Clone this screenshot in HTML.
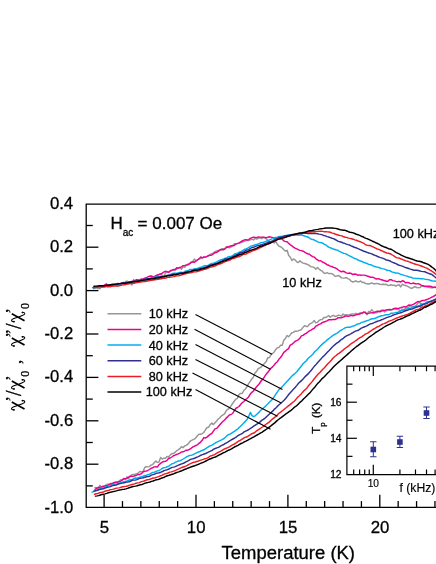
<!DOCTYPE html>
<html><head><meta charset="utf-8"><title>chart</title>
<style>html,body{margin:0;padding:0;background:#fff;}svg{display:block;will-change:transform;font-family:"Liberation Sans",sans-serif;}text{stroke:#000;stroke-width:0.3px;}</style>
</head><body>
<svg width="436" height="564" viewBox="0 0 436 564">
<rect width="436" height="564" fill="#fff"/>
<g fill="none" stroke-width="1.45" stroke-linejoin="round" stroke-linecap="round">
<polyline stroke="#969696" points="93.5,288.5 95.1,288.2 96.7,287.9 98.3,288.6 99.9,288.7 101.5,286.7 103.1,286.6 104.7,286.5 106.3,283.6 107.9,286.0 109.5,285.8 111.1,286.2 112.7,286.1 114.3,285.3 115.9,285.0 117.5,286.0 119.1,285.2 120.7,284.5 122.3,283.9 123.9,284.5 125.5,281.5 127.1,281.1 128.7,283.5 130.3,282.4 131.9,285.0 133.5,279.6 135.1,281.0 136.7,281.2 138.3,281.7 139.9,282.0 141.5,280.9 143.1,280.2 144.7,279.2 146.3,277.7 147.9,280.1 149.5,278.4 151.1,278.8 152.7,278.8 154.3,277.4 155.9,276.4 157.5,275.6 159.1,274.6 160.7,273.8 162.3,275.2 163.9,276.3 165.5,273.2 167.1,272.2 168.7,272.4 170.3,271.2 171.9,270.5 173.5,270.0 175.1,269.8 176.7,269.2 178.3,267.8 179.9,267.6 181.5,269.2 183.1,266.9 184.7,267.3 186.3,265.1 187.9,264.2 189.5,263.5 191.1,262.8 192.7,261.9 194.3,259.1 195.9,260.5 197.5,260.2 199.1,258.6 200.7,258.6 202.3,257.9 203.9,257.2 205.5,257.2 207.1,256.4 208.7,256.0 210.3,254.3 211.9,253.6 213.5,252.9 215.1,251.6 216.7,250.9 218.3,250.5 219.9,250.1 221.5,248.8 223.1,248.8 224.7,248.7 226.3,246.7 227.9,247.0 229.5,247.8 231.1,247.0 232.7,245.4 234.3,243.7 235.9,244.0 237.5,243.4 239.1,243.1 240.7,242.6 242.3,242.1 243.9,241.5 245.5,240.9 247.1,240.2 248.7,240.6 250.3,239.9 251.9,239.2 253.5,239.9 255.1,238.4 256.7,239.1 258.3,238.3 259.9,237.9 261.5,238.7 263.1,236.9 264.7,237.4 266.3,239.0 267.9,240.3 269.5,242.4 271.1,241.7 272.7,241.2 274.3,243.0 275.9,241.5 277.5,244.6 279.1,246.2 280.7,246.8 282.3,248.0 283.9,249.8 285.5,251.1 287.1,250.3 288.7,255.5 290.3,257.2 291.9,260.5 293.5,259.0 295.1,259.9 296.7,261.8 298.3,262.6 299.9,260.7 301.5,262.2 303.1,263.1 304.7,263.5 306.3,264.0 307.9,264.6 309.5,265.7 311.1,266.8 312.7,266.9 314.3,267.6 315.9,269.2 317.5,267.5 319.1,269.1 320.7,270.3 322.3,271.2 323.9,273.0 325.5,273.5 327.1,272.5 328.7,273.6 330.3,273.5 331.9,273.6 333.5,274.7 335.1,276.3 336.7,276.0 338.3,275.5 339.9,276.4 341.5,277.9 343.1,278.1 344.7,278.0 346.3,277.6 347.9,278.6 349.5,279.3 351.1,281.2 352.7,282.0 354.3,281.5 355.9,280.8 357.5,281.8 359.1,281.8 360.7,281.0 362.3,282.6 363.9,282.3 365.5,283.6 367.1,283.7 368.7,284.0 370.3,283.5 371.9,282.9 373.5,283.8 375.1,283.8 376.7,283.4 378.3,283.8 379.9,284.3 381.5,284.5 383.1,284.2 384.7,284.5 386.3,284.2 387.9,285.5 389.5,285.3 391.1,284.7 392.7,285.4 394.3,285.2 395.9,286.1 397.5,285.1 399.1,284.8 400.7,286.9 402.3,284.3 403.9,285.0 405.5,285.5 407.1,286.1 408.7,286.9 410.3,288.0 411.9,288.4 413.5,287.3 415.1,286.7 416.7,287.5 418.3,287.8 419.9,287.6 421.5,286.3 423.1,286.4 424.7,286.6 426.3,286.9 427.9,287.1 429.5,287.5 431.1,287.7 432.7,287.8 434.3,287.4 435.9,286.8 437.5,286.9 439.1,287.3"/>
<polyline stroke="#ec008c" points="93.5,287.5 95.1,287.1 96.7,286.5 98.3,286.6 99.9,286.1 101.5,285.9 103.1,285.9 104.7,285.0 106.3,284.3 107.9,286.9 109.5,285.0 111.1,284.6 112.7,284.8 114.3,284.5 115.9,284.1 117.5,283.4 119.1,283.6 120.7,283.7 122.3,282.6 123.9,282.5 125.5,284.5 127.1,283.0 128.7,282.1 130.3,282.6 131.9,282.1 133.5,280.7 135.1,280.4 136.7,279.6 138.3,280.0 139.9,279.9 141.5,278.9 143.1,279.1 144.7,278.1 146.3,277.8 147.9,276.9 149.5,276.3 151.1,276.0 152.7,276.4 154.3,276.7 155.9,275.6 157.5,275.0 159.1,274.4 160.7,274.0 162.3,273.2 163.9,272.0 165.5,271.3 167.1,271.6 168.7,272.3 170.3,270.8 171.9,270.2 173.5,269.5 175.1,269.8 176.7,267.7 178.3,268.2 179.9,267.5 181.5,266.8 183.1,265.7 184.7,265.5 186.3,265.1 187.9,264.8 189.5,263.9 191.1,262.2 192.7,261.8 194.3,262.3 195.9,261.2 197.5,259.8 199.1,258.9 200.7,256.9 202.3,257.8 203.9,257.0 205.5,257.1 207.1,256.4 208.7,255.4 210.3,255.3 211.9,255.0 213.5,253.7 215.1,252.8 216.7,252.3 218.3,251.4 219.9,249.9 221.5,249.8 223.1,249.8 224.7,249.0 226.3,247.7 227.9,247.0 229.5,246.4 231.1,245.8 232.7,245.8 234.3,245.6 235.9,243.9 237.5,243.6 239.1,242.9 240.7,241.9 242.3,241.0 243.9,240.1 245.5,239.6 247.1,240.0 248.7,239.6 250.3,238.3 251.9,237.6 253.5,237.2 255.1,237.4 256.7,237.6 258.3,236.9 259.9,237.1 261.5,237.1 263.1,237.5 264.7,237.5 266.3,237.7 267.9,237.3 269.5,236.8 271.1,237.1 272.7,237.6 274.3,237.9 275.9,237.4 277.5,237.9 279.1,238.6 280.7,238.8 282.3,239.2 283.9,240.9 285.5,241.6 287.1,241.8 288.7,243.4 290.3,244.8 291.9,245.9 293.5,247.1 295.1,248.1 296.7,248.8 298.3,249.7 299.9,250.4 301.5,250.6 303.1,251.2 304.7,252.1 306.3,253.2 307.9,253.8 309.5,254.2 311.1,255.7 312.7,256.7 314.3,257.1 315.9,258.8 317.5,259.8 319.1,260.9 320.7,260.7 322.3,262.0 323.9,262.6 325.5,263.6 327.1,264.7 328.7,265.3 330.3,266.1 331.9,266.5 333.5,267.4 335.1,267.8 336.7,268.6 338.3,270.0 339.9,271.0 341.5,271.8 343.1,271.3 344.7,271.8 346.3,272.9 347.9,273.4 349.5,273.0 351.1,273.4 352.7,274.6 354.3,274.0 355.9,274.2 357.5,275.2 359.1,274.9 360.7,275.2 362.3,275.1 363.9,275.1 365.5,275.4 367.1,276.0 368.7,276.5 370.3,277.2 371.9,277.2 373.5,277.4 375.1,278.5 376.7,279.0 378.3,278.6 379.9,279.2 381.5,279.7 383.1,280.2 384.7,280.7 386.3,281.3 387.9,281.3 389.5,279.8 391.1,279.6 392.7,280.6 394.3,280.9 395.9,281.4 397.5,281.7 399.1,281.4 400.7,282.0 402.3,280.7 403.9,281.3 405.5,282.7 407.1,282.5 408.7,282.6 410.3,283.6 411.9,283.6 413.5,283.0 415.1,283.8 416.7,283.9 418.3,283.6 419.9,284.4 421.5,285.4 423.1,285.8 424.7,286.2 426.3,286.2 427.9,286.2 429.5,286.2 431.1,286.5 432.7,287.2 434.3,287.3 435.9,287.6 437.5,287.4 439.1,287.1"/>
<polyline stroke="#00aeef" points="92.5,287.6 94.1,287.6 95.7,287.2 97.3,287.0 98.9,286.4 100.5,286.4 102.1,286.2 103.7,286.1 105.3,286.0 106.9,286.0 108.5,285.8 110.1,285.5 111.7,285.1 113.3,285.0 114.9,284.9 116.5,284.7 118.1,284.6 119.7,284.4 121.3,284.0 122.9,283.2 124.5,282.9 126.1,283.2 127.7,283.2 129.3,283.0 130.9,282.4 132.5,281.8 134.1,281.8 135.7,281.8 137.3,281.3 138.9,280.8 140.5,280.2 142.1,279.9 143.7,280.1 145.3,279.5 146.9,278.9 148.5,278.7 150.1,278.4 151.7,277.7 153.3,277.5 154.9,277.3 156.5,277.1 158.1,276.8 159.7,276.5 161.3,276.1 162.9,276.2 164.5,275.8 166.1,275.6 167.7,275.6 169.3,275.0 170.9,274.2 172.5,273.5 174.1,273.1 175.7,273.2 177.3,273.1 178.9,272.6 180.5,272.2 182.1,272.5 183.7,272.1 185.3,271.1 186.9,270.8 188.5,270.4 190.1,269.5 191.7,269.4 193.3,269.2 194.9,268.8 196.5,268.8 198.1,268.3 199.7,267.4 201.3,267.3 202.9,266.4 204.5,265.6 206.1,265.8 207.7,265.6 209.3,264.7 210.9,263.8 212.5,263.4 214.1,263.0 215.7,262.3 217.3,261.6 218.9,260.7 220.5,260.0 222.1,259.5 223.7,258.9 225.3,258.2 226.9,257.6 228.5,256.7 230.1,256.4 231.7,256.2 233.3,255.1 234.9,253.9 236.5,253.4 238.1,252.9 239.7,252.0 241.3,251.4 242.9,250.5 244.5,249.3 246.1,249.0 247.7,248.2 249.3,247.2 250.9,246.1 252.5,245.6 254.1,245.2 255.7,244.6 257.3,244.3 258.9,243.7 260.5,242.8 262.1,242.6 263.7,242.2 265.3,241.6 266.9,241.0 268.5,240.5 270.1,239.7 271.7,238.9 273.3,238.6 274.9,238.2 276.5,237.8 278.1,236.8 279.7,236.5 281.3,236.4 282.9,236.5 284.5,236.0 286.1,235.5 287.7,235.3 289.3,235.3 290.9,234.7 292.5,234.4 294.1,234.9 295.7,235.1 297.3,235.0 298.9,235.3 300.5,234.9 302.1,235.1 303.7,235.7 305.3,236.3 306.9,236.7 308.5,237.3 310.1,238.6 311.7,239.2 313.3,239.5 314.9,240.4 316.5,241.2 318.1,242.1 319.7,242.4 321.3,242.7 322.9,243.3 324.5,244.3 326.1,245.1 327.7,246.5 329.3,247.4 330.9,248.0 332.5,248.7 334.1,249.2 335.7,249.7 337.3,250.0 338.9,251.1 340.5,251.8 342.1,252.6 343.7,253.4 345.3,253.6 346.9,254.4 348.5,255.3 350.1,256.1 351.7,256.9 353.3,257.8 354.9,258.5 356.5,259.1 358.1,260.0 359.7,260.7 361.3,261.2 362.9,262.0 364.5,262.6 366.1,263.2 367.7,263.8 369.3,264.6 370.9,264.7 372.5,265.6 374.1,266.2 375.7,266.7 377.3,267.1 378.9,267.5 380.5,268.2 382.1,268.6 383.7,268.9 385.3,269.4 386.9,270.3 388.5,270.4 390.1,270.8 391.7,271.9 393.3,272.2 394.9,272.9 396.5,272.9 398.1,273.1 399.7,273.9 401.3,274.5 402.9,274.9 404.5,275.6 406.1,275.9 407.7,276.4 409.3,277.0 410.9,277.2 412.5,278.0 414.1,278.1 415.7,278.5 417.3,278.4 418.9,278.4 420.5,278.7 422.1,278.6 423.7,278.9 425.3,279.4 426.9,279.5 428.5,279.6 430.1,280.2 431.7,280.7 433.3,281.1 434.9,280.9 436.5,281.7 438.1,282.9 439.7,283.2"/>
<polyline stroke="#2e3192" points="93.5,287.6 95.1,287.3 96.7,287.2 98.3,286.8 99.9,286.6 101.5,286.2 103.1,286.0 104.7,285.9 106.3,285.9 107.9,285.6 109.5,285.2 111.1,285.2 112.7,285.2 114.3,284.6 115.9,284.4 117.5,284.1 119.1,283.9 120.7,283.7 122.3,283.2 123.9,283.0 125.5,282.8 127.1,282.4 128.7,282.2 130.3,281.8 131.9,281.5 133.5,281.5 135.1,281.5 136.7,281.2 138.3,280.8 139.9,280.5 141.5,280.5 143.1,280.2 144.7,279.5 146.3,278.9 147.9,278.9 149.5,278.9 151.1,278.5 152.7,278.3 154.3,278.0 155.9,277.6 157.5,277.3 159.1,277.0 160.7,276.7 162.3,276.7 163.9,276.5 165.5,275.9 167.1,275.5 168.7,275.1 170.3,275.0 171.9,274.6 173.5,274.3 175.1,274.2 176.7,274.0 178.3,273.7 179.9,273.1 181.5,272.9 183.1,272.6 184.7,272.4 186.3,272.0 187.9,271.7 189.5,271.4 191.1,271.0 192.7,270.4 194.3,269.9 195.9,269.6 197.5,269.4 199.1,268.9 200.7,268.4 202.3,268.1 203.9,267.7 205.5,267.1 207.1,266.6 208.7,265.9 210.3,265.1 211.9,264.8 213.5,264.8 215.1,264.3 216.7,263.7 218.3,262.8 219.9,261.8 221.5,261.3 223.1,260.5 224.7,259.3 226.3,259.0 227.9,258.8 229.5,258.1 231.1,257.5 232.7,256.8 234.3,256.0 235.9,255.0 237.5,254.3 239.1,253.5 240.7,252.7 242.3,252.4 243.9,251.6 245.5,250.7 247.1,249.9 248.7,249.6 250.3,248.5 251.9,247.5 253.5,247.3 255.1,246.6 256.7,245.9 258.3,245.6 259.9,245.3 261.5,244.8 263.1,244.1 264.7,243.8 266.3,243.1 267.9,242.5 269.5,241.9 271.1,241.5 272.7,240.8 274.3,239.8 275.9,239.1 277.5,238.3 279.1,237.6 280.7,237.2 282.3,236.8 283.9,236.3 285.5,235.8 287.1,235.7 288.7,235.2 290.3,234.9 291.9,234.6 293.5,234.3 295.1,233.9 296.7,233.9 298.3,233.8 299.9,233.9 301.5,233.7 303.1,233.3 304.7,233.2 306.3,233.4 307.9,233.5 309.5,233.3 311.1,233.5 312.7,233.5 314.3,233.3 315.9,233.6 317.5,233.7 319.1,234.1 320.7,234.4 322.3,234.9 323.9,235.5 325.5,235.9 327.1,236.6 328.7,237.0 330.3,237.6 331.9,238.2 333.5,238.6 335.1,239.5 336.7,240.4 338.3,241.4 339.9,241.8 341.5,242.2 343.1,243.0 344.7,243.4 346.3,244.1 347.9,244.6 349.5,245.0 351.1,245.8 352.7,246.5 354.3,247.3 355.9,247.8 357.5,248.4 359.1,249.1 360.7,249.8 362.3,250.5 363.9,251.3 365.5,251.8 367.1,252.4 368.7,253.0 370.3,253.4 371.9,253.9 373.5,254.8 375.1,255.4 376.7,256.0 378.3,256.8 379.9,257.4 381.5,257.9 383.1,258.4 384.7,259.1 386.3,260.0 387.9,260.2 389.5,260.7 391.1,261.7 392.7,262.4 394.3,263.0 395.9,263.7 397.5,264.5 399.1,265.3 400.7,265.6 402.3,266.1 403.9,266.9 405.5,267.5 407.1,268.0 408.7,268.5 410.3,269.1 411.9,269.5 413.5,270.2 415.1,270.3 416.7,270.3 418.3,270.5 419.9,271.0 421.5,271.4 423.1,271.6 424.7,271.7 426.3,272.5 427.9,273.1 429.5,273.7 431.1,274.2 432.7,275.1 434.3,276.5 435.9,277.8 437.5,278.9 439.1,280.1"/>
<polyline stroke="#ed1c24" points="94.0,287.0 95.6,287.3 97.2,287.1 98.8,286.8 100.4,286.9 102.0,287.1 103.6,287.1 105.2,286.8 106.8,286.6 108.4,286.6 110.0,286.7 111.6,286.3 113.2,286.1 114.8,286.0 116.4,286.0 118.0,286.1 119.6,285.6 121.2,285.2 122.8,284.9 124.4,284.7 126.0,284.4 127.6,284.0 129.2,283.7 130.8,283.6 132.4,283.5 134.0,283.3 135.6,282.8 137.2,282.6 138.8,282.4 140.4,282.0 142.0,281.7 143.6,281.5 145.2,281.5 146.8,281.4 148.4,280.7 150.0,280.5 151.6,280.3 153.2,280.0 154.8,279.8 156.4,279.6 158.0,279.2 159.6,279.0 161.2,278.8 162.8,278.3 164.4,278.2 166.0,278.0 167.6,277.4 169.2,277.3 170.8,277.1 172.4,276.9 174.0,276.6 175.6,276.1 177.2,275.9 178.8,275.7 180.4,275.4 182.0,274.8 183.6,274.4 185.2,273.8 186.8,273.6 188.4,273.1 190.0,272.9 191.6,272.7 193.2,272.0 194.8,271.9 196.4,271.7 198.0,271.2 199.6,270.8 201.2,270.4 202.8,269.9 204.4,269.4 206.0,269.1 207.6,268.3 209.2,267.5 210.8,267.1 212.4,266.8 214.0,266.2 215.6,265.8 217.2,264.9 218.8,264.2 220.4,263.7 222.0,263.2 223.6,262.4 225.2,261.7 226.8,261.0 228.4,260.6 230.0,260.1 231.6,258.9 233.2,258.5 234.8,258.0 236.4,257.3 238.0,256.8 239.6,256.5 241.2,255.7 242.8,254.6 244.4,254.3 246.0,254.1 247.6,253.2 249.2,252.3 250.8,251.7 252.4,250.9 254.0,250.3 255.6,249.7 257.2,249.2 258.8,248.3 260.4,247.5 262.0,246.9 263.6,246.1 265.2,245.3 266.8,244.4 268.4,244.1 270.0,243.3 271.6,242.2 273.2,241.3 274.8,240.6 276.4,239.9 278.0,239.3 279.6,238.7 281.2,238.2 282.8,237.9 284.4,237.5 286.0,237.1 287.6,236.5 289.2,236.0 290.8,235.6 292.4,235.1 294.0,234.5 295.6,234.3 297.2,233.8 298.8,233.4 300.4,233.1 302.0,232.9 303.6,232.8 305.2,232.3 306.8,232.1 308.4,232.1 310.0,231.9 311.6,231.9 313.2,231.8 314.8,231.8 316.4,231.6 318.0,231.4 319.6,231.2 321.2,231.2 322.8,231.4 324.4,231.7 326.0,231.8 327.6,231.9 329.2,232.0 330.8,232.5 332.4,233.1 334.0,233.5 335.6,234.3 337.2,234.8 338.8,235.3 340.4,235.6 342.0,235.9 343.6,236.8 345.2,237.3 346.8,237.4 348.4,238.1 350.0,238.4 351.6,238.7 353.2,239.3 354.8,239.9 356.4,240.2 358.0,241.0 359.6,241.5 361.2,242.2 362.8,242.9 364.4,243.7 366.0,245.0 367.6,245.4 369.2,245.5 370.8,245.8 372.4,246.6 374.0,247.3 375.6,248.2 377.2,249.0 378.8,249.4 380.4,250.2 382.0,250.8 383.6,251.7 385.2,252.3 386.8,253.0 388.4,253.3 390.0,253.7 391.6,254.5 393.2,255.5 394.8,256.7 396.4,257.7 398.0,257.9 399.6,258.3 401.2,259.0 402.8,259.6 404.4,260.3 406.0,260.9 407.6,261.2 409.2,261.9 410.8,262.5 412.4,263.1 414.0,263.8 415.6,264.2 417.2,264.6 418.8,265.1 420.4,265.7 422.0,266.3 423.6,266.9 425.2,267.6 426.8,268.1 428.4,269.2 430.0,270.2 431.6,271.0 433.2,272.1 434.8,273.4 436.4,274.8 438.0,276.1 439.6,277.5"/>
<polyline stroke="#000000" points="94.0,286.2 95.6,286.1 97.2,286.1 98.8,285.8 100.4,285.6 102.0,285.7 103.6,285.7 105.2,285.6 106.8,285.2 108.4,285.0 110.0,284.9 111.6,284.5 113.2,284.3 114.8,284.2 116.4,284.1 118.0,283.9 119.6,283.6 121.2,283.4 122.8,283.3 124.4,283.2 126.0,283.1 127.6,282.7 129.2,282.4 130.8,282.2 132.4,281.9 134.0,281.8 135.6,281.4 137.2,281.2 138.8,281.1 140.4,280.6 142.0,280.3 143.6,280.1 145.2,280.0 146.8,279.8 148.4,279.3 150.0,279.0 151.6,278.9 153.2,278.8 154.8,278.5 156.4,278.1 158.0,278.0 159.6,277.8 161.2,277.3 162.8,276.9 164.4,276.7 166.0,276.4 167.6,275.7 169.2,275.7 170.8,275.5 172.4,275.2 174.0,274.8 175.6,274.7 177.2,274.3 178.8,274.0 180.4,273.5 182.0,273.4 183.6,273.4 185.2,272.8 186.8,272.4 188.4,272.0 190.0,271.9 191.6,271.4 193.2,270.7 194.8,270.2 196.4,270.2 198.0,270.1 199.6,269.6 201.2,269.0 202.8,268.7 204.4,268.2 206.0,267.7 207.6,267.1 209.2,266.4 210.8,265.7 212.4,265.3 214.0,264.5 215.6,264.0 217.2,263.5 218.8,263.0 220.4,262.4 222.0,261.7 223.6,261.1 225.2,260.6 226.8,260.0 228.4,259.3 230.0,258.5 231.6,258.1 233.2,257.2 234.8,256.6 236.4,256.0 238.0,255.3 239.6,254.7 241.2,254.2 242.8,253.7 244.4,252.8 246.0,252.3 247.6,251.5 249.2,250.8 250.8,250.3 252.4,249.6 254.0,249.2 255.6,248.6 257.2,247.9 258.8,247.1 260.4,246.3 262.0,246.0 263.6,245.4 265.2,244.7 266.8,244.3 268.4,243.6 270.0,243.0 271.6,242.4 273.2,241.6 274.8,240.9 276.4,240.1 278.0,239.4 279.6,238.9 281.2,238.3 282.8,237.9 284.4,237.7 286.0,237.0 287.6,236.2 289.2,236.0 290.8,235.4 292.4,234.8 294.0,234.7 295.6,234.2 297.2,233.7 298.8,233.3 300.4,233.0 302.0,232.8 303.6,232.5 305.2,232.2 306.8,231.8 308.4,231.0 310.0,230.8 311.6,230.7 313.2,230.3 314.8,229.9 316.4,229.6 318.0,229.4 319.6,228.9 321.2,228.7 322.8,228.6 324.4,228.3 326.0,228.0 327.6,228.0 329.2,228.0 330.8,227.9 332.4,227.9 334.0,228.2 335.6,228.4 337.2,228.7 338.8,229.3 340.4,229.7 342.0,230.0 343.6,230.3 345.2,230.3 346.8,231.0 348.4,231.7 350.0,232.3 351.6,232.5 353.2,232.9 354.8,233.5 356.4,234.3 358.0,234.7 359.6,235.4 361.2,236.2 362.8,236.7 364.4,237.7 366.0,238.4 367.6,238.8 369.2,239.6 370.8,240.4 372.4,241.2 374.0,241.8 375.6,242.7 377.2,243.3 378.8,244.2 380.4,245.2 382.0,246.0 383.6,246.7 385.2,247.2 386.8,247.8 388.4,248.7 390.0,249.0 391.6,249.5 393.2,250.5 394.8,251.6 396.4,252.6 398.0,253.4 399.6,254.2 401.2,255.2 402.8,255.9 404.4,256.6 406.0,257.2 407.6,257.7 409.2,258.2 410.8,258.8 412.4,259.3 414.0,259.9 415.6,260.5 417.2,261.0 418.8,261.2 420.4,261.5 422.0,262.0 423.6,262.8 425.2,263.3 426.8,263.9 428.4,264.5 430.0,265.6 431.6,266.9 433.2,268.0 434.8,269.4 436.4,271.3 438.0,272.7 439.6,274.0"/>
<polyline stroke="#969696" points="95.0,487.4 96.6,487.8 98.2,488.6 99.8,485.3 101.4,487.3 103.0,487.0 104.6,486.1 106.2,484.8 107.8,484.2 109.4,484.3 111.0,485.1 112.6,483.2 114.2,482.4 115.8,482.2 117.4,482.1 119.0,481.0 120.6,479.8 122.2,479.9 123.8,479.0 125.4,479.7 127.0,476.8 128.6,478.4 130.2,476.6 131.8,474.8 133.4,474.4 135.0,474.4 136.6,473.7 138.2,473.1 139.8,471.5 141.4,471.7 143.0,471.7 144.6,467.7 146.2,466.6 147.8,466.9 149.4,466.6 151.0,465.0 152.6,464.6 154.2,462.8 155.8,461.1 157.4,462.4 159.0,462.1 160.6,457.5 162.2,459.1 163.8,458.2 165.4,458.2 167.0,456.4 168.6,457.0 170.2,455.0 171.8,453.5 173.4,453.6 175.0,452.4 176.6,450.8 178.2,449.8 179.8,448.7 181.4,446.6 183.0,447.7 184.6,445.9 186.2,445.4 187.8,444.2 189.4,442.1 191.0,440.6 192.6,439.9 194.2,439.2 195.8,437.9 197.4,435.7 199.0,434.2 200.6,434.2 202.2,433.6 203.8,432.5 205.4,429.9 207.0,427.5 208.6,427.2 210.2,424.6 211.8,423.1 213.4,424.6 215.0,422.8 216.6,421.1 218.2,419.0 219.8,417.8 221.4,416.0 223.0,414.8 224.6,413.8 226.2,410.7 227.8,409.3 229.4,408.2 231.0,405.8 232.6,403.5 234.2,401.3 235.8,399.1 237.4,398.4 239.0,394.3 240.6,393.5 242.2,393.3 243.8,390.6 245.4,389.0 247.0,386.6 248.6,383.6 250.2,381.3 251.8,379.0 253.4,377.1 255.0,372.9 256.6,371.5 258.2,368.7 259.8,367.8 261.4,366.9 263.0,364.9 264.6,363.3 266.2,361.6 267.8,357.8 269.4,357.5 271.0,354.8 272.6,353.5 274.2,351.9 275.8,349.4 277.4,347.7 279.0,347.4 280.6,345.3 282.2,345.3 283.8,340.3 285.4,338.6 287.0,335.5 288.6,336.8 290.2,334.9 291.8,332.7 293.4,332.4 295.0,331.2 296.6,331.3 298.2,330.9 299.8,330.2 301.4,329.6 303.0,327.3 304.6,325.8 306.2,326.4 307.8,326.4 309.4,324.2 311.0,323.3 312.6,322.4 314.2,320.5 315.8,322.8 317.4,322.4 319.0,320.6 320.6,319.6 322.2,319.6 323.8,317.5 325.4,317.5 327.0,316.8 328.6,315.5 330.2,317.3 331.8,316.0 333.4,315.3 335.0,316.5 336.6,316.0 338.2,315.3 339.8,315.3 341.4,316.2 343.0,314.0 344.6,315.2 346.2,314.8 347.8,314.9 349.4,314.7 351.0,314.2 352.6,313.9 354.2,314.3 355.8,313.3 357.4,314.2 359.0,313.4 360.6,312.8 362.2,313.7 363.8,312.1 365.4,311.9 367.0,314.6 368.6,311.5 370.2,311.7 371.8,309.7 373.4,311.6 375.0,312.9 376.6,312.7 378.2,311.6 379.8,311.0 381.4,310.2 383.0,310.1 384.6,311.9 386.2,310.6 387.8,309.8 389.4,310.3 391.0,310.1 392.6,309.1 394.2,308.7 395.8,309.3 397.4,309.4 399.0,309.9 400.6,311.2 402.2,309.1 403.8,309.7 405.4,308.3 407.0,307.8 408.6,307.4 410.2,305.2 411.8,306.7 413.4,306.9 415.0,306.8 416.6,305.1 418.2,302.8 419.8,302.9 421.4,304.0 423.0,304.4 424.6,304.4 426.2,302.1 427.8,301.6 429.4,301.5 431.0,301.2 432.6,300.5 434.2,300.2 435.8,298.9 437.4,298.8 439.0,298.4"/>
<polyline stroke="#ec008c" points="95.0,489.4 96.6,488.4 98.2,487.4 99.8,487.4 101.4,486.9 103.0,486.3 104.6,486.0 106.2,485.6 107.8,485.4 109.4,484.3 111.0,483.5 112.6,483.7 114.2,482.7 115.8,482.2 117.4,482.3 119.0,481.8 120.6,481.1 122.2,480.1 123.8,478.4 125.4,478.9 127.0,478.3 128.6,477.1 130.2,476.2 131.8,476.3 133.4,476.4 135.0,475.7 136.6,475.2 138.2,474.4 139.8,474.4 141.4,473.7 143.0,471.9 144.6,471.3 146.2,471.1 147.8,470.5 149.4,469.5 151.0,468.4 152.6,467.8 154.2,466.9 155.8,466.6 157.4,467.1 159.0,464.7 160.6,463.4 162.2,462.2 163.8,461.5 165.4,461.4 167.0,460.3 168.6,458.5 170.2,458.0 171.8,457.0 173.4,455.7 175.0,455.2 176.6,454.5 178.2,453.9 179.8,453.1 181.4,452.0 183.0,451.8 184.6,451.1 186.2,450.2 187.8,450.2 189.4,449.3 191.0,448.4 192.6,447.2 194.2,446.3 195.8,445.5 197.4,444.8 199.0,443.3 200.6,442.1 202.2,440.3 203.8,437.6 205.4,438.0 207.0,437.1 208.6,435.6 210.2,434.3 211.8,433.5 213.4,431.2 215.0,428.9 216.6,428.4 218.2,426.7 219.8,424.7 221.4,422.9 223.0,421.3 224.6,420.0 226.2,418.1 227.8,416.6 229.4,414.9 231.0,414.5 232.6,413.5 234.2,410.8 235.8,408.4 237.4,407.5 239.0,406.5 240.6,404.5 242.2,402.8 243.8,401.5 245.4,399.8 247.0,398.5 248.6,396.9 250.2,394.2 251.8,392.3 253.4,391.2 255.0,388.7 256.6,386.7 258.2,385.1 259.8,383.0 261.4,380.5 263.0,379.1 264.6,376.7 266.2,374.2 267.8,372.3 269.4,370.2 271.0,368.1 272.6,366.9 274.2,365.0 275.8,363.0 277.4,361.7 279.0,359.1 280.6,357.5 282.2,355.1 283.8,352.3 285.4,351.1 287.0,349.7 288.6,348.6 290.2,345.1 291.8,344.4 293.4,343.0 295.0,341.5 296.6,340.7 298.2,339.8 299.8,338.4 301.4,335.9 303.0,335.4 304.6,334.2 306.2,333.4 307.8,332.0 309.4,330.8 311.0,330.1 312.6,329.0 314.2,328.3 315.8,326.1 317.4,325.5 319.0,324.4 320.6,323.9 322.2,322.6 323.8,322.0 325.4,321.5 327.0,320.9 328.6,319.8 330.2,319.7 331.8,319.7 333.4,319.4 335.0,319.5 336.6,318.8 338.2,317.6 339.8,317.7 341.4,317.9 343.0,317.2 344.6,316.5 346.2,315.9 347.8,316.2 349.4,316.1 351.0,315.4 352.6,315.8 354.2,315.6 355.8,314.9 357.4,314.5 359.0,314.4 360.6,313.6 362.2,312.8 363.8,312.1 365.4,312.9 367.0,313.8 368.6,313.4 370.2,312.9 371.8,312.8 373.4,313.0 375.0,312.2 376.6,311.5 378.2,311.3 379.8,311.7 381.4,311.2 383.0,310.5 384.6,310.3 386.2,310.0 387.8,309.6 389.4,309.4 391.0,309.6 392.6,309.5 394.2,308.4 395.8,308.1 397.4,308.4 399.0,308.2 400.6,307.8 402.2,307.3 403.8,306.6 405.4,307.0 407.0,306.3 408.6,305.0 410.2,305.2 411.8,305.0 413.4,304.4 415.0,303.4 416.6,302.4 418.2,301.4 419.8,301.8 421.4,300.8 423.0,300.4 424.6,300.4 426.2,299.7 427.8,299.2 429.4,298.5 431.0,297.5 432.6,296.9 434.2,296.0 435.8,294.9 437.4,293.4 439.0,293.6"/>
<polyline stroke="#00aeef" points="92.0,492.1 93.6,491.6 95.2,490.9 96.8,490.5 98.4,490.0 100.0,489.0 101.6,488.4 103.2,488.2 104.8,487.5 106.4,486.7 108.0,486.3 109.6,486.1 111.2,485.7 112.8,485.0 114.4,484.3 116.0,483.9 117.6,483.6 119.2,483.2 120.8,482.8 122.4,482.2 124.0,481.7 125.6,481.5 127.2,480.9 128.8,480.3 130.4,479.8 132.0,479.6 133.6,478.7 135.2,478.0 136.8,478.2 138.4,477.7 140.0,477.1 141.6,476.8 143.2,476.2 144.8,475.5 146.4,475.2 148.0,474.6 149.6,474.1 151.2,473.2 152.8,472.4 154.4,472.2 156.0,471.4 157.6,470.9 159.2,470.5 160.8,469.5 162.4,468.2 164.0,467.6 165.6,467.6 167.2,466.7 168.8,466.1 170.4,464.8 172.0,463.8 173.6,463.4 175.2,462.4 176.8,461.7 178.4,461.0 180.0,460.9 181.6,460.0 183.2,459.0 184.8,458.0 186.4,457.0 188.0,456.1 189.6,455.5 191.2,455.3 192.8,454.9 194.4,453.9 196.0,453.1 197.6,452.3 199.2,451.8 200.8,451.0 202.4,450.3 204.0,449.8 205.6,448.7 207.2,447.7 208.8,446.6 210.4,445.6 212.0,445.2 213.6,444.1 215.2,443.0 216.8,442.2 218.4,441.3 220.0,440.6 221.6,439.9 223.2,439.0 224.8,437.8 226.4,436.3 228.0,434.9 229.6,434.3 231.2,433.4 232.8,432.3 234.4,431.3 236.0,430.1 237.6,429.2 239.2,427.6 240.8,426.0 242.4,424.5 244.0,422.6 245.6,421.1 247.2,419.3 248.8,416.1 250.4,412.3 252.0,415.6 253.6,416.6 255.2,415.8 256.8,414.3 258.4,412.9 260.0,411.1 261.6,409.4 263.2,408.3 264.8,406.9 266.4,405.2 268.0,403.8 269.6,402.1 271.2,400.4 272.8,398.9 274.4,396.4 276.0,393.9 277.6,391.7 279.2,389.3 280.8,388.1 282.4,386.6 284.0,384.7 285.6,382.9 287.2,381.2 288.8,379.5 290.4,377.8 292.0,375.9 293.6,374.6 295.2,373.2 296.8,371.7 298.4,369.7 300.0,367.7 301.6,365.7 303.2,363.5 304.8,362.1 306.4,360.7 308.0,358.5 309.6,357.0 311.2,355.8 312.8,354.2 314.4,352.0 316.0,350.5 317.6,349.3 319.2,347.2 320.8,345.6 322.4,344.1 324.0,342.6 325.6,341.5 327.2,339.8 328.8,338.6 330.4,337.5 332.0,336.1 333.6,335.0 335.2,334.1 336.8,333.3 338.4,332.2 340.0,330.8 341.6,330.0 343.2,329.0 344.8,328.0 346.4,327.4 348.0,327.2 349.6,327.2 351.2,326.7 352.8,326.1 354.4,325.8 356.0,324.9 357.6,324.0 359.2,323.9 360.8,322.9 362.4,322.1 364.0,321.8 365.6,321.2 367.2,320.6 368.8,320.1 370.4,319.3 372.0,318.8 373.6,318.7 375.2,318.3 376.8,317.5 378.4,316.8 380.0,316.3 381.6,315.8 383.2,315.6 384.8,315.0 386.4,314.6 388.0,314.8 389.6,314.4 391.2,313.2 392.8,313.2 394.4,312.9 396.0,312.4 397.6,312.4 399.2,311.6 400.8,310.8 402.4,310.2 404.0,310.1 405.6,309.5 407.2,309.0 408.8,308.4 410.4,308.2 412.0,307.7 413.6,306.6 415.2,306.3 416.8,306.2 418.4,305.9 420.0,305.2 421.6,304.3 423.2,304.0 424.8,303.5 426.4,302.7 428.0,301.9 429.6,301.8 431.2,301.1 432.8,300.4 434.4,299.8 436.0,298.6 437.6,298.1 439.2,297.9"/>
<polyline stroke="#2e3192" points="93.8,491.1 95.3,490.7 96.9,490.2 98.5,489.7 100.1,489.2 101.7,489.0 103.3,488.7 104.9,488.1 106.5,487.5 108.1,487.1 109.7,486.9 111.3,486.1 112.9,485.6 114.5,485.3 116.1,485.0 117.7,484.3 119.3,483.7 120.9,483.4 122.5,483.1 124.1,482.7 125.7,482.4 127.3,482.1 128.9,481.8 130.5,481.3 132.1,480.3 133.7,480.1 135.3,480.1 136.9,479.6 138.5,478.9 140.1,478.2 141.7,478.1 143.3,477.8 144.9,477.3 146.5,476.8 148.1,476.6 149.7,476.2 151.3,475.1 152.9,474.6 154.5,474.2 156.1,473.3 157.7,473.1 159.3,472.8 160.9,472.2 162.5,471.5 164.1,470.6 165.7,470.1 167.3,469.7 168.9,469.0 170.5,468.2 172.1,467.4 173.7,467.1 175.3,466.6 176.9,465.9 178.5,465.2 180.1,464.5 181.7,463.9 183.3,463.3 184.9,462.5 186.5,461.7 188.1,460.8 189.7,459.9 191.3,459.1 192.9,458.8 194.5,458.3 196.1,457.5 197.7,456.9 199.3,456.2 200.9,455.2 202.5,454.6 204.1,454.0 205.7,453.5 207.3,452.7 208.9,451.9 210.5,451.2 212.1,450.4 213.7,449.2 215.3,448.5 216.9,447.9 218.5,447.4 220.1,446.3 221.7,445.4 223.3,444.8 224.9,443.7 226.5,442.8 228.1,441.9 229.7,440.8 231.3,439.9 232.9,439.0 234.5,438.1 236.1,437.2 237.7,435.8 239.3,434.8 240.9,434.1 242.5,433.3 244.1,431.9 245.7,431.1 247.3,430.3 248.9,429.5 250.5,428.3 252.1,427.3 253.7,426.2 255.3,425.1 256.9,424.1 258.5,423.1 260.1,421.9 261.7,420.4 263.3,419.4 264.9,418.3 266.5,416.7 268.1,415.2 269.7,413.8 271.3,412.4 272.9,410.9 274.5,409.1 276.1,407.7 277.7,406.0 279.3,404.5 280.9,403.2 282.5,401.8 284.1,400.3 285.7,398.5 287.3,396.4 288.9,394.3 290.5,392.5 292.1,390.8 293.7,388.9 295.3,387.3 296.9,385.4 298.5,383.3 300.1,381.9 301.7,380.4 303.3,378.8 304.9,376.9 306.5,375.4 308.1,373.9 309.7,372.1 311.3,370.2 312.9,368.1 314.5,366.1 316.1,364.4 317.7,362.5 319.3,360.8 320.9,359.1 322.5,357.1 324.1,355.7 325.7,354.1 327.3,352.3 328.9,350.7 330.5,349.0 332.1,347.2 333.7,345.8 335.3,344.4 336.9,343.0 338.5,342.1 340.1,340.6 341.7,339.3 343.3,338.3 344.9,336.9 346.5,335.9 348.1,335.2 349.7,334.5 351.3,333.5 352.9,332.6 354.5,331.6 356.1,330.9 357.7,330.5 359.3,329.6 360.9,328.4 362.5,327.7 364.1,327.0 365.7,326.4 367.3,325.6 368.9,324.6 370.5,323.9 372.1,323.5 373.7,322.9 375.3,322.2 376.9,321.5 378.5,320.9 380.1,320.5 381.7,319.7 383.3,319.1 384.9,318.3 386.5,317.6 388.1,317.1 389.7,316.6 391.3,316.1 392.9,315.2 394.5,314.6 396.1,314.1 397.7,313.5 399.3,313.1 400.9,312.8 402.5,312.1 404.1,311.3 405.7,310.7 407.3,310.4 408.9,309.6 410.5,309.2 412.1,309.1 413.7,308.3 415.3,307.5 416.9,307.0 418.5,306.5 420.1,306.2 421.7,305.5 423.3,304.4 424.9,303.9 426.5,303.6 428.1,302.7 429.7,301.7 431.3,301.2 432.9,300.6 434.5,299.9 436.1,299.5 437.7,298.9 439.3,298.1"/>
<polyline stroke="#ed1c24" points="94.5,494.3 96.1,493.8 97.7,493.5 99.3,492.8 100.9,492.4 102.5,492.3 104.1,491.6 105.7,491.0 107.3,490.6 108.9,490.2 110.5,489.6 112.1,489.4 113.7,489.1 115.3,488.4 116.9,488.1 118.5,487.9 120.1,487.6 121.7,487.0 123.3,486.7 124.9,486.4 126.5,486.2 128.1,485.7 129.7,485.1 131.3,484.7 132.9,484.3 134.5,483.9 136.1,483.3 137.7,482.9 139.3,482.6 140.9,481.9 142.5,481.4 144.1,481.0 145.7,480.3 147.3,479.8 148.9,479.6 150.5,479.0 152.1,478.3 153.7,478.0 155.3,477.7 156.9,477.1 158.5,476.6 160.1,476.0 161.7,475.3 163.3,474.5 164.9,473.9 166.5,473.5 168.1,473.0 169.7,472.1 171.3,471.9 172.9,471.4 174.5,470.9 176.1,470.2 177.7,469.4 179.3,468.7 180.9,467.9 182.5,467.3 184.1,466.7 185.7,466.1 187.3,465.4 188.9,464.4 190.5,463.7 192.1,462.9 193.7,462.3 195.3,462.0 196.9,461.5 198.5,461.0 200.1,460.4 201.7,459.9 203.3,459.4 204.9,458.7 206.5,458.4 208.1,457.7 209.7,456.4 211.3,455.8 212.9,455.1 214.5,454.7 216.1,453.7 217.7,452.7 219.3,451.9 220.9,451.1 222.5,450.2 224.1,449.2 225.7,448.5 227.3,447.8 228.9,447.1 230.5,446.1 232.1,445.1 233.7,444.3 235.3,443.5 236.9,442.3 238.5,441.2 240.1,440.5 241.7,439.4 243.3,438.3 244.9,437.4 246.5,437.0 248.1,436.1 249.7,435.1 251.3,434.0 252.9,433.3 254.5,432.7 256.1,431.2 257.7,430.2 259.3,429.1 260.9,428.0 262.5,427.0 264.1,425.9 265.7,424.5 267.3,423.4 268.9,422.4 270.5,420.9 272.1,419.3 273.7,418.1 275.3,416.9 276.9,415.4 278.5,413.8 280.1,412.5 281.7,411.3 283.3,410.0 284.9,408.7 286.5,407.5 288.1,406.1 289.7,404.9 291.3,403.6 292.9,402.3 294.5,401.0 296.1,399.1 297.7,397.2 299.3,395.8 300.9,394.3 302.5,392.4 304.1,390.6 305.7,389.2 307.3,387.4 308.9,385.3 310.5,383.5 312.1,381.6 313.7,379.5 315.3,377.5 316.9,375.5 318.5,373.8 320.1,372.2 321.7,370.4 323.3,368.7 324.9,367.2 326.5,365.3 328.1,363.5 329.7,362.0 331.3,360.2 332.9,358.2 334.5,356.8 336.1,355.5 337.7,354.1 339.3,353.1 340.9,351.9 342.5,350.6 344.1,349.2 345.7,348.0 347.3,346.8 348.9,345.6 350.5,344.2 352.1,343.2 353.7,342.2 355.3,341.0 356.9,339.8 358.5,338.6 360.1,337.7 361.7,336.8 363.3,335.7 364.9,334.4 366.5,333.6 368.1,332.8 369.7,331.6 371.3,330.6 372.9,329.5 374.5,328.6 376.1,327.7 377.7,326.7 379.3,326.2 380.9,325.2 382.5,324.1 384.1,323.6 385.7,323.0 387.3,322.1 388.9,321.1 390.5,320.7 392.1,320.1 393.7,319.3 395.3,318.6 396.9,318.0 398.5,317.4 400.1,316.8 401.7,316.2 403.3,315.6 404.9,315.1 406.5,314.6 408.1,314.1 409.7,313.4 411.3,312.4 412.9,311.6 414.5,310.7 416.1,309.9 417.7,309.5 419.3,309.1 420.9,307.7 422.5,307.0 424.1,306.7 425.7,305.6 427.3,305.3 428.9,304.7 430.5,303.6 432.1,302.6 433.7,301.9 435.3,301.3 436.9,300.4 438.5,299.8"/>
<polyline stroke="#000000" points="95.5,496.1 97.1,495.9 98.7,495.6 100.3,495.0 101.9,494.5 103.5,494.2 105.1,493.9 106.7,493.4 108.3,492.8 109.9,492.4 111.5,492.0 113.1,491.6 114.7,491.3 116.3,490.9 117.9,490.4 119.5,490.0 121.1,489.8 122.7,489.4 124.3,489.2 125.9,488.9 127.5,488.4 129.1,487.8 130.7,487.3 132.3,486.8 133.9,486.4 135.5,486.1 137.1,485.7 138.7,485.2 140.3,484.8 141.9,484.5 143.5,483.8 145.1,483.1 146.7,482.7 148.3,482.4 149.9,482.0 151.5,481.4 153.1,481.0 154.7,480.4 156.3,479.8 157.9,479.6 159.5,479.0 161.1,478.3 162.7,477.8 164.3,477.2 165.9,476.3 167.5,475.7 169.1,475.3 170.7,474.8 172.3,474.2 173.9,473.7 175.5,473.0 177.1,472.4 178.7,471.9 180.3,471.3 181.9,470.7 183.5,470.0 185.1,469.2 186.7,468.7 188.3,468.0 189.9,467.4 191.5,466.8 193.1,466.2 194.7,465.7 196.3,465.1 197.9,464.5 199.5,463.8 201.1,463.1 202.7,462.5 204.3,461.8 205.9,461.0 207.5,460.2 209.1,459.3 210.7,458.8 212.3,458.0 213.9,457.4 215.5,457.0 217.1,456.1 218.7,455.2 220.3,454.5 221.9,453.6 223.5,452.7 225.1,452.1 226.7,451.2 228.3,450.3 229.9,449.7 231.5,448.8 233.1,447.8 234.7,446.8 236.3,446.2 237.9,445.4 239.5,444.4 241.1,443.5 242.7,442.8 244.3,441.9 245.9,441.2 247.5,440.3 249.1,439.4 250.7,438.7 252.3,437.7 253.9,436.8 255.5,435.8 257.1,435.0 258.7,434.2 260.3,433.2 261.9,432.3 263.5,431.2 265.1,430.1 266.7,429.0 268.3,427.9 269.9,426.7 271.5,425.4 273.1,424.1 274.7,422.9 276.3,421.4 277.9,420.0 279.5,418.7 281.1,417.6 282.7,416.4 284.3,415.2 285.9,413.9 287.5,412.9 289.1,411.7 290.7,410.6 292.3,409.2 293.9,407.7 295.5,406.5 297.1,405.3 298.7,403.7 300.3,402.1 301.9,400.7 303.5,399.0 305.1,397.5 306.7,395.9 308.3,394.3 309.9,392.9 311.5,390.9 313.1,388.9 314.7,387.2 316.3,385.1 317.9,383.2 319.5,381.7 321.1,379.8 322.7,378.1 324.3,376.7 325.9,375.0 327.5,373.2 329.1,371.8 330.7,370.1 332.3,368.2 333.9,366.5 335.5,365.0 337.1,363.5 338.7,362.1 340.3,360.7 341.9,359.4 343.5,357.9 345.1,356.5 346.7,355.1 348.3,353.6 349.9,352.2 351.5,350.7 353.1,349.4 354.7,348.0 356.3,346.7 357.9,345.6 359.5,344.4 361.1,343.2 362.7,342.1 364.3,341.2 365.9,340.0 367.5,338.5 369.1,337.2 370.7,336.1 372.3,335.0 373.9,333.9 375.5,332.5 377.1,331.6 378.7,330.7 380.3,329.6 381.9,328.6 383.5,327.5 385.1,326.5 386.7,325.7 388.3,324.9 389.9,324.1 391.5,323.3 393.1,322.4 394.7,321.6 396.3,320.7 397.9,319.9 399.5,319.4 401.1,318.8 402.7,318.2 404.3,317.4 405.9,316.5 407.5,315.9 409.1,315.3 410.7,314.4 412.3,313.6 413.9,312.9 415.5,312.0 417.1,311.4 418.7,310.7 420.3,310.0 421.9,309.2 423.5,307.9 425.1,307.2 426.7,306.7 428.3,305.8 429.9,304.8 431.5,304.3 433.1,303.3 434.7,302.3 436.3,301.4 437.9,300.7 439.5,299.9"/>
</g>
<g stroke="#000" stroke-width="1.3" fill="none">
<path d="M438,204.2 H86.2 V507.4 H438"/>
<path d="M86.2,485.90 h6.6"/>
<path d="M86.2,464.20 h12.2"/>
<path d="M86.2,442.50 h6.6"/>
<path d="M86.2,420.80 h12.2"/>
<path d="M86.2,399.10 h6.6"/>
<path d="M86.2,377.40 h12.2"/>
<path d="M86.2,355.70 h6.6"/>
<path d="M86.2,334.00 h12.2"/>
<path d="M86.2,312.30 h6.6"/>
<path d="M86.2,290.60 h12.2"/>
<path d="M86.2,268.90 h6.6"/>
<path d="M86.2,247.20 h12.2"/>
<path d="M86.2,225.50 h6.6"/>
<path d="M104.10,507.4 v-12.6"/>
<path d="M122.48,507.4 v-6.3"/>
<path d="M140.86,507.4 v-6.3"/>
<path d="M159.24,507.4 v-6.3"/>
<path d="M177.62,507.4 v-6.3"/>
<path d="M196.00,507.4 v-12.6"/>
<path d="M214.38,507.4 v-6.3"/>
<path d="M232.76,507.4 v-6.3"/>
<path d="M251.14,507.4 v-6.3"/>
<path d="M269.52,507.4 v-6.3"/>
<path d="M287.90,507.4 v-12.6"/>
<path d="M306.28,507.4 v-6.3"/>
<path d="M324.66,507.4 v-6.3"/>
<path d="M343.04,507.4 v-6.3"/>
<path d="M361.42,507.4 v-6.3"/>
<path d="M379.80,507.4 v-12.6"/>
<path d="M398.18,507.4 v-6.3"/>
<path d="M416.56,507.4 v-6.3"/>
<path d="M434.94,507.4 v-6.3"/>
</g>
<g font-size="16.8" fill="#000" text-anchor="end">
<text x="73.2" y="512.50" textLength="28.6" lengthAdjust="spacingAndGlyphs">-1.0</text>
<text x="73.2" y="469.10" textLength="28.6" lengthAdjust="spacingAndGlyphs">-0.8</text>
<text x="73.2" y="425.70" textLength="28.6" lengthAdjust="spacingAndGlyphs">-0.6</text>
<text x="73.2" y="382.30" textLength="28.6" lengthAdjust="spacingAndGlyphs">-0.4</text>
<text x="73.2" y="338.90" textLength="28.6" lengthAdjust="spacingAndGlyphs">-0.2</text>
<text x="73.2" y="295.50" textLength="23.3" lengthAdjust="spacingAndGlyphs">0.0</text>
<text x="73.2" y="252.10" textLength="23.3" lengthAdjust="spacingAndGlyphs">0.2</text>
<text x="73.2" y="208.70" textLength="23.3" lengthAdjust="spacingAndGlyphs">0.4</text>
</g>
<g font-size="16.8" fill="#000" text-anchor="middle">
<text x="104.30" y="532.6">5</text>
<text x="196.20" y="532.6">10</text>
<text x="288.10" y="532.6">15</text>
<text x="380.00" y="532.6">20</text>
</g>
<text x="221.6" y="558.5" font-size="18" textLength="133.4" lengthAdjust="spacingAndGlyphs">Temperature (K)</text>
<g role="img" aria-label="χ’/χ’0 , χ’’/χ’0" transform="translate(20.6,411) rotate(-90)" font-family="Liberation Serif" font-size="19.6" fill="#000" style="stroke-width:0.12px">
<g transform="translate(0.0,0)" fill="none" stroke="#000" stroke-linecap="round"><path d="M9.0,-8.8 L2.0,3.9" stroke-width="1.7" stroke-linecap="butt"/><path d="M1.2,-6.6 C1.0,-8.2 1.6,-9.3 2.7,-9.0 C3.8,-8.7 4.3,-6.8 5.7,-2.5 C7.1,1.8 7.7,3.8 8.9,4.1 C10.0,4.3 10.7,3.2 10.5,1.6" stroke-width="1.1"/><circle cx="1.2" cy="-6.6" r="0.85" fill="#000" stroke="none"/><circle cx="10.3" cy="1.9" r="0.85" fill="#000" stroke="none"/></g>
<g transform="translate(20.9,0)" fill="none" stroke="#000" stroke-linecap="round"><path d="M9.0,-8.8 L2.0,3.9" stroke-width="1.7" stroke-linecap="butt"/><path d="M1.2,-6.6 C1.0,-8.2 1.6,-9.3 2.7,-9.0 C3.8,-8.7 4.3,-6.8 5.7,-2.5 C7.1,1.8 7.7,3.8 8.9,4.1 C10.0,4.3 10.7,3.2 10.5,1.6" stroke-width="1.1"/><circle cx="1.2" cy="-6.6" r="0.85" fill="#000" stroke="none"/><circle cx="10.3" cy="1.9" r="0.85" fill="#000" stroke="none"/></g>
<g transform="translate(63.9,0)" fill="none" stroke="#000" stroke-linecap="round"><path d="M9.0,-8.8 L2.0,3.9" stroke-width="1.7" stroke-linecap="butt"/><path d="M1.2,-6.6 C1.0,-8.2 1.6,-9.3 2.7,-9.0 C3.8,-8.7 4.3,-6.8 5.7,-2.5 C7.1,1.8 7.7,3.8 8.9,4.1 C10.0,4.3 10.7,3.2 10.5,1.6" stroke-width="1.1"/><circle cx="1.2" cy="-6.6" r="0.85" fill="#000" stroke="none"/><circle cx="10.3" cy="1.9" r="0.85" fill="#000" stroke="none"/></g>
<g transform="translate(88.2,0)" fill="none" stroke="#000" stroke-linecap="round"><path d="M9.0,-8.8 L2.0,3.9" stroke-width="1.7" stroke-linecap="butt"/><path d="M1.2,-6.6 C1.0,-8.2 1.6,-9.3 2.7,-9.0 C3.8,-8.7 4.3,-6.8 5.7,-2.5 C7.1,1.8 7.7,3.8 8.9,4.1 C10.0,4.3 10.7,3.2 10.5,1.6" stroke-width="1.1"/><circle cx="1.2" cy="-6.6" r="0.85" fill="#000" stroke="none"/><circle cx="10.3" cy="1.9" r="0.85" fill="#000" stroke="none"/></g>
<text x="9.3" y="-3.5" font-size="17">’</text>
<text x="30.0" y="-3.5" font-size="17">’</text>
<text x="73.3" y="-3.5" font-size="17">’</text>
<text x="76.5" y="-3.5" font-size="17">’</text>
<text x="97.3" y="-3.5" font-size="17">’</text>
<text transform="translate(15.0,0.8) scale(1,1.17)">/</text>
<text transform="translate(81.9,0.8) scale(1,1.17)">/</text>
<text x="34.2" y="8.6" font-size="12">0</text>
<text x="102.0" y="8.6" font-size="12">0</text>
<text x="47" y="0.6" font-size="17">,</text>
</g>
<text x="110.6" y="229.2" font-size="17">H</text>
<text x="122.8" y="236.2" font-size="10">ac</text>
<text x="137.6" y="229.2" font-size="17">= 0.007 Oe</text>
<text x="392.7" y="238.3" font-size="12.7">100 kHz</text>
<text x="282.3" y="286.5" font-size="12.7">10 kHz</text>
<g stroke-width="1.5" fill="none">
<path d="M107.5,313.8 H141.3" stroke="#969696"/>
<path d="M107.5,329.4 H141.3" stroke="#ec008c"/>
<path d="M107.5,345.1 H141.3" stroke="#00aeef"/>
<path d="M107.5,360.7 H141.3" stroke="#2e3192"/>
<path d="M107.5,376.4 H141.3" stroke="#ed1c24"/>
<path d="M107.5,392.0 H141.3" stroke="#000000"/>
</g>
<g font-size="12.7" fill="#000" style="stroke-width:0.2px">
<text x="148.7" y="318.2">10 kHz</text>
<text x="148.7" y="333.8">20 kHz</text>
<text x="148.7" y="349.5">40 kHz</text>
<text x="148.7" y="365.1">60 kHz</text>
<text x="148.7" y="380.8">80 kHz</text>
<text x="145.7" y="396.4">100 kHz</text>
</g>
<g stroke="#000" stroke-width="1.12" fill="none">
<path d="M195.5,314.5 L272,354.25"/>
<path d="M194.5,329.25 L270.5,369.25"/>
<path d="M195.5,344.5 L282.5,389.5"/>
<path d="M195.5,359.5 L281.25,403"/>
<path d="M192.5,373 L277.5,416.25"/>
<path d="M195.5,389.5 L270.5,429.25"/>
</g>
<rect x="346.9" y="365.2" width="91.10000000000002" height="109.40000000000003" fill="#fff"/>
<g stroke="#000" stroke-width="1.2" fill="none">
<path d="M438,366.2 H346.9 V474.6 H438"/>
<path d="M346.9,456.35 h5.6"/>
<path d="M346.9,438.30 h10"/>
<path d="M346.9,420.25 h5.6"/>
<path d="M346.9,402.20 h10"/>
<path d="M346.9,384.15 h5.6"/>
<path d="M353.69,474.6 v-5.0 M353.69,366.2 v5.0"/>
<path d="M359.61,474.6 v-5.0 M359.61,366.2 v5.0"/>
<path d="M364.73,474.6 v-5.0 M364.73,366.2 v5.0"/>
<path d="M369.26,474.6 v-5.0 M369.26,366.2 v5.0"/>
<path d="M373.30,474.6 v-9.8 M373.30,366.2 v9.8"/>
<path d="M399.91,474.6 v-5.0 M399.91,366.2 v5.0"/>
<path d="M415.48,474.6 v-5.0 M415.48,366.2 v5.0"/>
<path d="M426.52,474.6 v-5.0 M426.52,366.2 v5.0"/>
<path d="M435.09,474.6 v-5.0 M435.09,366.2 v5.0"/>
</g>
<g font-size="10.2" fill="#000" text-anchor="end" style="stroke-width:0.15px">
<text x="341.5" y="478.20">12</text>
<text x="341.5" y="442.10">14</text>
<text x="341.5" y="406.00">16</text>
</g>
<text x="373.3" y="486.6" font-size="10.2" text-anchor="middle" style="stroke-width:0.15px">10</text>
<text x="399.5" y="491.5" font-size="12.2" style="stroke-width:0.15px">f (kHz)</text>
<g transform="translate(320.4,433.8) rotate(-90)" style="stroke-width:0.12px"><text x="0" y="0" font-size="11.6">T<tspan font-size="8" dy="4.8">p</tspan><tspan dy="-4.8" dx="1"> (K)</tspan></text></g>
<g stroke="#2e3192" stroke-width="1" fill="#2e3192">
<path d="M373.3,441.75 V456.75 M370.1,441.75 h6.4 M370.1,456.75 h6.4" fill="none"/>
<rect x="370.5" y="446.7" width="5.6" height="5.6" stroke="none"/>
<path d="M399.9,436.25 V447.5 M396.7,436.25 h6.4 M396.7,447.5 h6.4" fill="none"/>
<rect x="397.09999999999997" y="439.2" width="5.6" height="5.6" stroke="none"/>
<path d="M426.5,407 V418.5 M423.3,407 h6.4 M423.3,418.5 h6.4" fill="none"/>
<rect x="423.7" y="410.2" width="5.6" height="5.6" stroke="none"/>
</g>
</svg></body></html>
